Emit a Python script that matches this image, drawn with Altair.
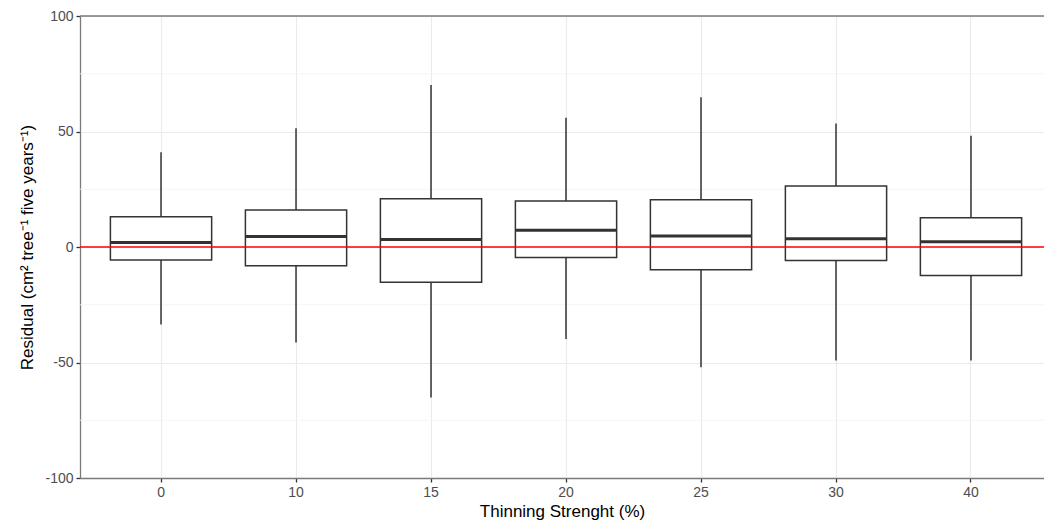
import altair as alt
import pandas as pd

cats = ["0", "10", "15", "20", "25", "30", "40"]
whisker_low = [-33.5, -41.3, -65.2, -39.8, -52.1, -49.1, -49.1]
q1 = [-5.6, -8.1, -15.3, -4.5, -9.8, -5.8, -12.3]
median = [1.9, 4.5, 3.2, 7.2, 4.8, 3.6, 2.3]
q3 = [13.1, 16.0, 20.9, 19.9, 20.5, 26.4, 12.7]
whisker_high = [41.0, 51.4, 70.1, 56.0, 64.8, 53.5, 48.2]
y_major = [-100, -50, 0, 50, 100]
y_minor = [-75, -25, 25, 75]
ref_line = [0]
panel_top = [100]

df = pd.DataFrame({
    "cat": cats, "lo": whisker_low, "q1": q1, "med": median,
    "q3": q3, "hi": whisker_high,
})

W, H = 964, 462
step = 135.0
box_w = step * 0.75
FONT = "Liberation Sans"
BORDER = "#7a7a7a"

xs = alt.Scale(domain=cats, paddingInner=0.25, paddingOuter=0.1955, align=0.576)
ys = alt.Scale(domain=[-100, 100], nice=False, zero=False)

x_enc = alt.X("cat:N", sort=cats, scale=xs,
              axis=alt.Axis(title="Thinning Strenght (%)", labelAngle=0,
                            grid=True, gridColor="#ebebeb", gridWidth=1.1,
                            domain=True, domainColor=BORDER, domainWidth=1.3,
                            tickColor="#333333", tickSize=4, tickWidth=1.3,
                            labelColor="#4d4d4d", labelFontSize=14, labelPadding=3,
                            titleFontSize=17, titleFontWeight="normal",
                            titleColor="#000000", titlePadding=4, labelFont=FONT, titleFont=FONT))
y_axis = alt.Axis(title="Residual (cm² tree⁻¹ five years⁻¹)", values=y_major,
                  labelExpr="datum.value < 0 ? '-' + abs(datum.value) : '' + datum.value",
                  grid=True, gridColor="#ebebeb", gridWidth=1.1,
                  domain=True, domainColor=BORDER, domainWidth=1.3,
                  tickColor="#333333", tickSize=4, tickWidth=1.3,
                  labelColor="#4d4d4d", labelFontSize=14, labelPadding=3,
                  titleFontSize=17, titleFontWeight="normal", titleColor="#000000",
                  titlePadding=8, labelFont=FONT, titleFont=FONT)

base = alt.Chart(df)

minor = alt.Chart(pd.DataFrame({"v": y_minor})).mark_rule(
    color="#f2f2f2", strokeWidth=0.8).encode(y=alt.Y("v:Q", scale=ys, axis=y_axis))
top = alt.Chart(pd.DataFrame({"v": panel_top})).mark_rule(
    color=BORDER, strokeWidth=1.3).encode(y=alt.Y("v:Q", scale=ys, axis=y_axis))

upper_w = base.mark_rule(color="#333333", strokeWidth=1.5).encode(
    x=x_enc, y=alt.Y("q3:Q", scale=ys, axis=y_axis), y2="hi:Q")
lower_w = base.mark_rule(color="#333333", strokeWidth=1.5).encode(
    x=x_enc, y=alt.Y("lo:Q", scale=ys, axis=y_axis), y2="q1:Q")
box = base.mark_bar(fill="white", stroke="#333333", strokeWidth=1.5, opacity=1).encode(
    x=x_enc, y=alt.Y("q1:Q", scale=ys, axis=y_axis), y2="q3:Q")
med = base.mark_tick(color="#333333", thickness=3, size=box_w, opacity=1).encode(
    x=x_enc, y=alt.Y("med:Q", scale=ys, axis=y_axis))
red = alt.Chart(pd.DataFrame({"v": ref_line})).mark_rule(
    color="#ff0000", strokeWidth=1.3).encode(y=alt.Y("v:Q", scale=ys, axis=y_axis))

chart = alt.layer(minor, top, upper_w, lower_w, box, med, red).properties(
    width=W, height=H,
    background="white",
    autosize=alt.AutoSizeParams(type="none"),
    padding={"left": 80, "top": 16, "right": 0, "bottom": 48},
).configure_view(stroke=None)

chart.save("out.html", embed_options={"renderer": "svg", "actions": False})
